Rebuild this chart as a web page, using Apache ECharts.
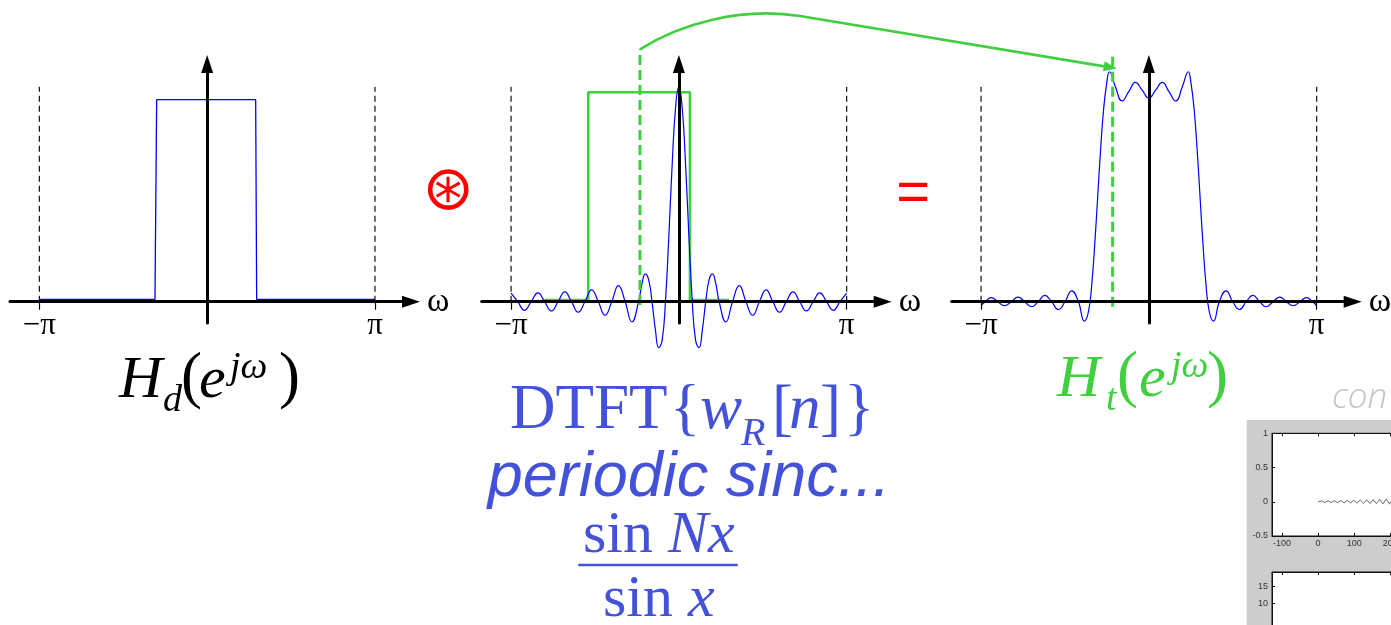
<!DOCTYPE html>
<html><head><meta charset="utf-8">
<script src="https://cdn.jsdelivr.net/npm/echarts@6/dist/echarts.min.js"></script>
<style>html,body{margin:0;padding:0;background:#fff;overflow:hidden}#c{width:1391px;height:625px}</style>
</head><body><div id="c"></div>
<script>
// ---------- data (ω in units of π) ----------
const TICK_VALUES = [-1, 1];
const TICK_LABELS = ['\u2212\u03c0', '\u03c0'];
const AXIS_NAME = '\u03c9';
const GUIDE_TOPS = [1.064, 1.0, 1.024];

// Panel 1: ideal low-pass H_d
const HD_OMEGA  = [-1, -0.311, -0.301, 0.289, 0.295, 1];
const HD_VALUES = [0.012, 0.012, 1, 1, 0.012, 0.012];

// Panel 2: periodic sinc (blue)
const W_OMEGA = [-1.00,-0.96,-0.92,-0.88,-0.84,-0.80,-0.76,-0.72,-0.68,-0.64,-0.60,-0.56,-0.52,-0.48,-0.44,-0.40,-0.36,-0.32,-0.28,-0.24,
  -0.22,-0.20,-0.18,-0.16,-0.14,-0.12,-0.10,-0.08,-0.06,-0.04,-0.02,0,0.02,0.04,0.06,0.08,0.10,0.12,0.14,0.16,0.18,0.20,0.22,
  0.24,0.28,0.32,0.36,0.40,0.44,0.48,0.52,0.56,0.60,0.64,0.68,0.72,0.76,0.80,0.84,0.88,0.92,0.96,1.00];
const W_VALUES = [0.040,0,-0.040,0,0.041,0,-0.043,0,0.046,0,-0.049,0,0.055,0,-0.063,0,0.075,0,-0.094,0,
  0.084,0.129,0.101,0,-0.130,-0.214,-0.181,0,0.301,0.637,0.900,1,0.900,0.637,0.301,0,-0.181,-0.214,-0.130,0,0.101,0.129,0.084,
  0,-0.094,0,0.075,0,-0.063,0,0.055,0,-0.049,0,0.046,0,-0.043,0,0.041,0,-0.040,0,0.040];

// Panel 2: shifted H_d (green)
const SHIFT_OMEGA  = [-0.810, -0.540, -0.540, 0.066, 0.066, 0.300];
const SHIFT_VALUES = [0.008, 0.008, 0.974, 0.974, 0.008, 0.008];
const SHIFT_MARK_OMEGA = -0.232;
const SHIFT_MARK_SPAN = [-0.015, 1.174];

// Panel 3: H_t (blue)
const HT_OMEGA = [-1.0,-0.975,-0.94,-0.90,-0.86,-0.82,-0.78,-0.74,-0.70,-0.66,-0.62,-0.58,-0.54,-0.50,-0.46,-0.42,-0.385,-0.36,-0.34,-0.32,
  -0.305,-0.29,-0.27,-0.25,-0.235,-0.20,-0.16,-0.12,-0.08,-0.04,0,0.04,0.08,0.12,0.16,0.20,0.235,0.25,0.27,0.29,0.305,
  0.32,0.34,0.36,0.385,0.42,0.46,0.50,0.54,0.58,0.62,0.66,0.70,0.74,0.78,0.82,0.86,0.90,0.94,0.975,1.0];
const HT_VALUES = [-0.018,0,0.019,0,-0.019,0,0.022,0,-0.024,0,0.030,0,-0.037,0,0.052,0,-0.092,-0.047,0.086,0.305,
  0.500,0.695,0.914,1.047,1.095,1.025,0.956,1.000,1.044,1.007,0.970,1.007,1.044,1.000,0.956,1.025,1.095,1.047,0.914,0.695,0.500,
  0.305,0.086,-0.047,-0.092,0,0.052,0,-0.037,0,0.030,0,-0.024,0,0.022,0,-0.019,0,0.019,0,-0.018];
const HT_MARK_OMEGA = -0.216;
const HT_MARK_SPAN = [-0.024, 1.19];
const ARROW_TIP = [-0.192, 1.111];

// Inset (cropped screenshot at bottom right)
const INSET_N = [0,9,18,27,36,45,54,63,72,81,90,99,108,117,126,135,144,153,162,171,180,189,198,207];
const INSET_VALUES = [0,0.012,-0.010,0.014,-0.012,0.016,-0.014,0.018,-0.016,0.020,-0.018,0.022,-0.020,0.025,-0.022,0.028,-0.025,0.030,-0.028,0.035,-0.030,0.040,-0.035,0.045];
const INSET_X_TICKS = [-100, 0, 100, 200];
const INSET_X_LABELS = ['-100', '0', '100', '200'];
const INSET_Y_TICKS = [-0.5, 0, 0.5, 1];
const INSET_Y_LABELS = ['-0.5', '0', '0.5', '1'];
const INSET2_Y_TICKS = [10, 15];

// ---------- styling / layout ----------
const BLUE = '#0000ff', GREEN = '#3fcf3f', TXT_BLUE = '#4352d8', RED = '#ff0000';
const SERIF = 'Liberation Serif', SANS = 'Liberation Sans';
const PANEL_LEFT = [10, 481.7, 951.7];
const PANEL_Y = [[-0.1054, 1.1767], [-0.0991, 1.1056], [-0.1014, 1.1319]];
const XMIN = -1.175, XMAX = 1.2147;

const pairs = (xs, ys) => xs.map((x, i) => [x, ys[i]]);

const grids = PANEL_LEFT.map(l => ({left: l, top: 64, width: 401, height: 259, containLabel: false, outerBoundsMode: 'none'}));
grids.push({left: 1272, top: 433.3, width: 200, height: 102.7, show: true, backgroundColor: '#fff', borderColor: '#111', borderWidth: 1, outerBoundsMode: 'none'});
grids.push({left: 1272, top: 572, width: 200, height: 80, show: true, backgroundColor: '#fff', borderColor: '#111', borderWidth: 1, outerBoundsMode: 'none'});

const xAxes = [], yAxes = [], series = [];
for (let i = 0; i < 3; i++) {
  xAxes.push({
    gridIndex: i, type: 'value', min: XMIN, max: XMAX, z: 3,
    axisLine: {onZero: true, symbol: ['none', 'triangle'], symbolSize: [12, 18], lineStyle: {color: '#000', width: 3}},
    axisTick: {show: true, customValues: TICK_VALUES, length: 8, lineStyle: {color: '#000', width: 1.2}},
    axisLabel: {customValues: TICK_VALUES, formatter: v => TICK_LABELS[TICK_VALUES.indexOf(v)] || '',
      fontFamily: SERIF, fontSize: 31, color: '#000', margin: -13},
    splitLine: {show: false},
    name: AXIS_NAME, nameLocation: 'end', nameGap: 16,
    nameTextStyle: {fontFamily: SERIF, fontSize: 34, color: '#000', verticalAlign: 'middle', padding: [0, 0, 10, 0]}
  });
  yAxes.push({
    gridIndex: i, type: 'value', min: PANEL_Y[i][0], max: PANEL_Y[i][1], z: 3,
    axisLine: {show: true, onZero: true, symbol: ['none', 'triangle'], symbolSize: [12, 18], lineStyle: {color: '#000', width: 3}},
    axisTick: {show: false}, axisLabel: {show: false}, splitLine: {show: false}
  });
  TICK_VALUES.forEach(t => series.push({
    type: 'line', xAxisIndex: i, yAxisIndex: i, data: [[t, 0], [t, GUIDE_TOPS[i]]], symbol: 'none', silent: true, z: 1,
    lineStyle: {color: '#111', width: 1.2, type: [6, 4]}
  }));
}
// inset axes
const insetLabel = {fontFamily: SANS, fontSize: 9, color: '#333'};
xAxes.push({gridIndex: 3, type: 'value', min: -128, max: 427, position: 'bottom',
  axisLine: {onZero: false, lineStyle: {color: '#111', width: 1}},
  axisTick: {inside: true, length: 3, customValues: INSET_X_TICKS, lineStyle: {color: '#111'}},
  axisLabel: Object.assign({customValues: INSET_X_TICKS, formatter: v => INSET_X_LABELS[INSET_X_TICKS.indexOf(v)], margin: 3}, insetLabel),
  splitLine: {show: false}});
xAxes.push({gridIndex: 3, type: 'value', min: -128, max: 427, position: 'top',
  axisLine: {onZero: false, lineStyle: {color: '#111', width: 1}},
  axisTick: {inside: true, length: 3, customValues: INSET_X_TICKS, lineStyle: {color: '#111'}},
  axisLabel: {show: false}, splitLine: {show: false}});
xAxes.push({gridIndex: 4, type: 'value', min: -128, max: 427, position: 'top',
  axisLine: {onZero: false, lineStyle: {color: '#111', width: 1}},
  axisTick: {inside: true, length: 3, customValues: INSET_X_TICKS, lineStyle: {color: '#111'}},
  axisLabel: {show: false}, splitLine: {show: false}});
yAxes.push({gridIndex: 3, type: 'value', min: -0.5, max: 1,
  axisLine: {onZero: false, lineStyle: {color: '#111', width: 1}},
  axisTick: {inside: true, length: 3, customValues: INSET_Y_TICKS, lineStyle: {color: '#111'}},
  axisLabel: Object.assign({customValues: INSET_Y_TICKS, formatter: v => INSET_Y_LABELS[INSET_Y_TICKS.indexOf(v)], margin: 4}, insetLabel),
  splitLine: {show: false}});
yAxes.push({gridIndex: 4, type: 'value', min: -4.7, max: 19.4,
  axisLine: {onZero: false, lineStyle: {color: '#111', width: 1}},
  axisTick: {inside: true, length: 3, customValues: INSET2_Y_TICKS, lineStyle: {color: '#111'}},
  axisLabel: Object.assign({customValues: INSET2_Y_TICKS, margin: 4}, insetLabel),
  splitLine: {show: false}});

// main curves
series.push({type: 'line', xAxisIndex: 0, yAxisIndex: 0, data: pairs(HD_OMEGA, HD_VALUES), symbol: 'none', z: 2,
  lineStyle: {color: BLUE, width: 1.3}});
series.push({type: 'line', xAxisIndex: 1, yAxisIndex: 1, data: pairs(SHIFT_OMEGA, SHIFT_VALUES), symbol: 'none', z: 2,
  lineStyle: {color: GREEN, width: 2.6}});
series.push({type: 'line', xAxisIndex: 1, yAxisIndex: 1, data: pairs(W_OMEGA, W_VALUES), symbol: 'none', smooth: 0.5, clip: false, z: 2,
  lineStyle: {color: BLUE, width: 1.2}});
series.push({type: 'line', xAxisIndex: 1, yAxisIndex: 1, data: [[SHIFT_MARK_OMEGA, SHIFT_MARK_SPAN[0]], [SHIFT_MARK_OMEGA, SHIFT_MARK_SPAN[1]]],
  symbol: 'none', clip: false, z: 2, lineStyle: {color: GREEN, width: 3, type: [10, 5]}});
series.push({type: 'line', xAxisIndex: 2, yAxisIndex: 2, data: pairs(HT_OMEGA, HT_VALUES), symbol: 'none', smooth: 0.5, clip: false, z: 2,
  lineStyle: {color: BLUE, width: 1.2}});
series.push({type: 'line', xAxisIndex: 2, yAxisIndex: 2, data: [[HT_MARK_OMEGA, HT_MARK_SPAN[0]], [HT_MARK_OMEGA, HT_MARK_SPAN[1]]],
  symbol: 'none', clip: false, z: 2, lineStyle: {color: GREEN, width: 3, type: [10, 5]}});
series.push({type: 'line', xAxisIndex: 3, yAxisIndex: 3, data: pairs(INSET_N, INSET_VALUES), symbol: 'none', z: 2,
  lineStyle: {color: '#444', width: 0.8}});

const chart = echarts.init(document.getElementById('c'), null, {renderer: 'canvas'});
chart.setOption({animation: false, backgroundColor: '#fff', grid: grids, xAxis: xAxes, yAxis: yAxes, series: series});

// ---------- text and annotations ----------
function T(text, x, base, size, o) {
  o = o || {};
  const fam = o.family || SERIF;
  const k = fam === SANS ? 0.3465 : (fam === 'Open Sans' ? 0.388 : (fam === 'DejaVu Sans' ? 0.346 : 0.3375));
  const al = o.align || 'left';
  return {type: 'text', x: x, y: base - k * size, z: 50, silent: true,
    style: {text: text, fontFamily: fam, fontSize: size, fontStyle: o.italic ? 'italic' : 'normal', fontWeight: o.weight || 'normal',
      fill: o.color || '#000', align: al, textAlign: al, verticalAlign: 'middle', textVerticalAlign: 'middle'}};
}
const g = [];
g.push({type: 'rect', z: -10, silent: true, shape: {x: 1246.7, y: 420, width: 200, height: 220}, style: {fill: '#cdcdcd'}});
// H_d(e^{jω})
g.push(T('H', 119, 401, 60, {italic: true}));
g.push(T('d', 163, 414, 38, {italic: true}));
g.push(T('(', 181, 401, 63));
g.push(T('e', 199, 401, 60, {italic: true}));
g.push(T('j\u03c9', 230, 381, 38, {italic: true}));
g.push(T(')', 279, 401, 63));
// H_t(e^{jω})
g.push(T('H', 1057, 400, 60, {italic: true, color: GREEN}));
g.push(T('t', 1106, 413, 38, {italic: true, color: GREEN}));
g.push(T('(', 1117, 400, 63, {color: GREEN}));
g.push(T('e', 1139, 400, 60, {italic: true, color: GREEN}));
g.push(T('j\u03c9', 1171, 380, 38, {italic: true, color: GREEN}));
g.push(T(')', 1207, 400, 63, {color: GREEN}));
// DTFT{w_R[n]}
g.push(T('DTFT', 510, 432.7, 63, {color: TXT_BLUE}));
g.push(T('{', 670, 432.7, 63, {color: TXT_BLUE}));
g.push(T('w', 700, 432.7, 63, {italic: true, color: TXT_BLUE}));
g.push(T('R', 741, 448, 40, {italic: true, color: TXT_BLUE}));
g.push(T('[', 772, 432.7, 63, {color: TXT_BLUE}));
g.push(T('n', 789, 432.7, 63, {italic: true, color: TXT_BLUE}));
g.push(T(']', 820, 432.7, 63, {color: TXT_BLUE}));
g.push(T('}', 844, 432.7, 63, {color: TXT_BLUE}));
g.push(T('periodic sinc...', 689, 500, 63, {family: SANS, italic: true, color: TXT_BLUE, align: 'center'}));
// fraction
g.push(T('sin ', 583, 556.7, 60, {color: TXT_BLUE}));
g.push(T('N', 668, 556.7, 60, {italic: true, color: TXT_BLUE}));
g.push(T('x', 708, 556.7, 60, {italic: true, color: TXT_BLUE}));
g.push({type: 'line', z: 50, silent: true, shape: {x1: 578.3, y1: 565, x2: 737.7, y2: 565}, style: {stroke: TXT_BLUE, lineWidth: 2.5}});
g.push(T('sin ', 603, 620, 60, {color: TXT_BLUE}));
g.push(T('x', 688, 620, 60, {italic: true, color: TXT_BLUE}));
// operators
g.push(T('\u229b', 448.3, 214.7, 62, {family: 'DejaVu Sans', color: RED, align: 'center'}));
g.push(T('=', 913.3, 215, 58, {family: SANS, color: RED, align: 'center'}));
// cropped inset caption
g.push(T('con', 1332, 412, 35, {family: 'Open Sans', italic: true, weight: 300, color: '#c4c4c4'}));

// green arrow from shifted window centre to H_t
const s = chart.convertToPixel({gridIndex: 1}, [SHIFT_MARK_OMEGA, SHIFT_MARK_SPAN[1]]);
const tip = chart.convertToPixel({gridIndex: 2}, ARROW_TIP);
const p = [s[0] + 160, s[1] - 33.3];
g.push({type: 'bezierCurve', z: 40, silent: true,
  shape: {x1: s[0], y1: s[1], cpx1: s[0] + 40, cpy1: s[1] - 25.3, cpx2: s[0] + 100, cpy2: s[1] - 42.6, x2: p[0], y2: p[1]},
  style: {stroke: GREEN, lineWidth: 2.6, fill: null}});
const dx = tip[0] - p[0], dy = tip[1] - p[1], len = Math.hypot(dx, dy), ux = dx / len, uy = dy / len;
const hb = [tip[0] - 13 * ux, tip[1] - 13 * uy];
g.push({type: 'line', z: 40, silent: true, shape: {x1: p[0], y1: p[1], x2: hb[0] + 2 * ux, y2: hb[1] + 2 * uy},
  style: {stroke: GREEN, lineWidth: 2.6}});
g.push({type: 'polygon', z: 41, silent: true,
  shape: {points: [[tip[0], tip[1]], [hb[0] - 5 * uy, hb[1] + 5 * ux], [hb[0] + 5 * uy, hb[1] - 5 * ux]]},
  style: {fill: GREEN}});

chart.setOption({graphic: g});
</script>
</body></html>
